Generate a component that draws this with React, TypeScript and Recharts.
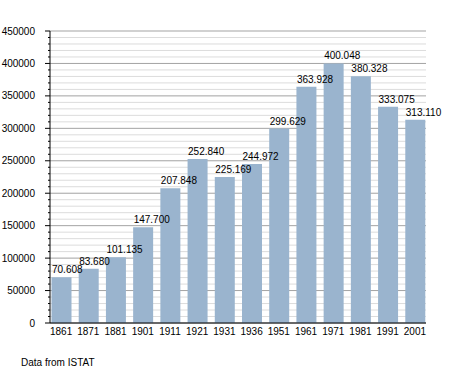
import { BarChart, Bar, XAxis, YAxis, CartesianGrid, LabelList } from 'recharts'

const years = ['1861', '1871', '1881', '1901', '1911', '1921', '1931', '1936', '1951', '1961', '1971', '1981', '1991', '2001']
const population = [70608, 83680, 101135, 147700, 207848, 252840, 225169, 244972, 299629, 363928, 400048, 380328, 333075, 313110]
const minorTicks = Array.from({ length: 46 }, (_, i) => i * 10000)
const MAJOR_STEP = 50000

const FONT = '"Liberation Sans", Arial, sans-serif'
const BAR_COLOR = '#9ab4ce'

const data = years.map((year, i) => ({ year, value: population[i] }))

// 70608 -> "70.608"
const fmt = (v: number) => String(v).replace(/\B(?=(\d{3})+(?!\d))/g, '.')

const renderLabel = (props: any) => {
  const { x, y, value } = props
  return (
    <text x={x + 0.5} y={y - 4} fontSize={10} fontFamily={FONT} fill="#000" textAnchor="start">
      {fmt(value)}
    </text>
  )
}

// minor ticks every 10000, labelled major ticks every 50000
const YTick = (props: any) => {
  const { x, y, payload } = props
  const major = payload.value % MAJOR_STEP === 0
  return (
    <g>
      <line x1={x - (major ? 5 : 2)} x2={x} y1={y} y2={y} stroke="#000" />
      {major && (
        <text x={x - 15} y={y} dy="0.355em" textAnchor="end" fontSize={10} fontFamily={FONT} fill="#000">
          {payload.value}
        </text>
      )}
    </g>
  )
}

const gridLine = (p: any) => {
  const major = minorTicks[p.index] % MAJOR_STEP === 0
  return (
    <line
      key={p.key}
      x1={p.x1}
      x2={p.x2}
      y1={p.y1}
      y2={p.y2}
      stroke={major ? '#a3a3a3' : '#dcdcdc'}
      strokeWidth={1}
    />
  )
}

export default function App() {
  return (
    <div style={{ position: 'absolute', left: 0, top: 0, width: 455, height: 373, background: '#fff', fontFamily: FONT }}>
      <BarChart width={455} height={373} data={data} margin={{ top: 31, right: 29, bottom: 20, left: 0 }} barSize={20}>
        <CartesianGrid vertical={false} horizontal={gridLine} />
        <XAxis
          dataKey="year"
          padding={{ left: -2.5, right: -2.5 }}
          tickLine={false}
          tickSize={0}
          tickMargin={5}
          axisLine={{ stroke: '#000' }}
          tick={{ fill: '#000', fontSize: 10, fontFamily: FONT }}
          interval={0}
          height={30}
        />
        <YAxis
          width={50}
          domain={[0, 450000]}
          ticks={minorTicks}
          interval={0}
          tickSize={0}
          tickMargin={0}
          tickLine={false}
          axisLine={{ stroke: '#000' }}
          tick={<YTick />}
          allowDataOverflow
        />
        <Bar dataKey="value" fill={BAR_COLOR} isAnimationActive={false}>
          <LabelList dataKey="value" content={renderLabel} />
        </Bar>
      </BarChart>
      <div style={{ position: 'absolute', left: 21, top: 357, fontSize: 10, lineHeight: '12px', color: '#000' }}>
        Data from ISTAT
      </div>
    </div>
  )
}
